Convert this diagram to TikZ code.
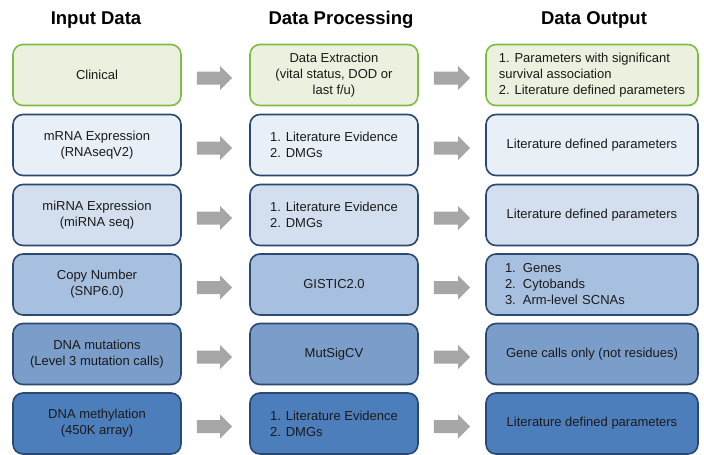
\documentclass[tikz,border=0pt]{standalone}
\usepackage{fontspec}
\setmainfont{Liberation Sans}
\usetikzlibrary{calc}
\definecolor{gfill}{HTML}{EBF1DE}
\definecolor{gline}{HTML}{80BC42}
\definecolor{navy}{HTML}{2A4870}
\definecolor{bA}{HTML}{E9EFF7}
\definecolor{bB}{HTML}{D3DFEE}
\definecolor{bC}{HTML}{A8C0DF}
\definecolor{bD}{HTML}{7A9DCA}
\definecolor{bE}{HTML}{4C7EBC}
\definecolor{arrowgrey}{HTML}{A6A6A6}
\definecolor{txt}{HTML}{1A1A1A}
\begin{document}
\begin{tikzpicture}[x=1pt,y=-1pt,
  box/.style={draw=navy, line width=1.6pt, rounded corners=10pt, minimum height=61pt,
    inner sep=0pt, align=center, text=txt, font=\fontsize{13}{16}\selectfont},
  cA/.style={box, minimum width=168pt},
  cC/.style={box, minimum width=212pt},
  green/.style={draw=gline, fill=gfill},
  head/.style={anchor=base, text=black, font=\fontsize{18.5}{22}\selectfont\bfseries}]
\useasboundingbox (0,0) rectangle (704,455);

\node[head] (h1) at (96,24) {Input Data};
\node[head] (h2) at (341,24) {Data Processing};
\node[head] (h3) at (594,24) {Data Output};

% row 1
\node[cA, green] (a1) at (97,75) {Clinical};
\node[cA, green] (b1) at (334,75) {Data Extraction\\(vital status, DOD or\\last f/u)};
\node[cC, green, align=left] (c1) at (592,75) {1. Parameters with significant\\survival association\\2. Literature defined parameters};
% row 2
\node[cA, fill=bA] (a2) at (97,145) {mRNA Expression\\(RNAseqV2)};
\node[cA, fill=bA, align=left] (b2) at (334,145) {1. Literature Evidence\\2. DMGs};
\node[cC, fill=bA] (c2) at (592,145) {Literature defined parameters};
% row 3
\node[cA, fill=bB] (a3) at (97,215) {miRNA Expression\\(miRNA seq)};
\node[cA, fill=bB, align=left] (b3) at (334,215) {1. Literature Evidence\\2. DMGs};
\node[cC, fill=bB] (c3) at (592,215) {Literature defined parameters};
% row 4
\node[cA, fill=bC] (a4) at (97,284.5) {Copy Number\\(SNP6.0)};
\node[cA, fill=bC] (b4) at (334,284.5) {GISTIC2.0};
\node[cC, fill=bC, align=left, text width=174pt] (c4) at (592,284.5)
  {\makebox[18pt][l]{1.}Genes\\\makebox[18pt][l]{2.}Cytobands\\\makebox[18pt][l]{3.}Arm-level SCNAs};
% row 5
\node[cA, fill=bD] (a5) at (97,354) {DNA mutations\\(Level 3 mutation calls)};
\node[cA, fill=bD] (b5) at (334,354) {MutSigCV};
\node[cC, fill=bD] (c5) at (592,354) {Gene calls only (not residues)};
% row 6
\node[cA, fill=bE] (a6) at (97,423.5) {DNA methylation\\(450K array)};
\node[cA, fill=bE, align=left] (b6) at (334,423.5) {1. Literature Evidence\\2. DMGs};
\node[cC, fill=bE] (c6) at (592,423.5) {Literature defined parameters};

% arrows
\foreach \r in {1,...,6}{
  \foreach \s/\t/\e in {a/b/17, b/c/15}{
    \fill[arrowgrey] let \p1=($(\s\r.east)+(15,3)$), \p2=($(\t\r.west)+(-\e,3)$) in
      (\x1,\y1+6.5pt) -- (\x2-12pt,\y1+6.5pt) -- (\x2-12pt,\y1+12pt) -- (\x2,\y1)
      -- (\x2-12pt,\y1-12pt) -- (\x2-12pt,\y1-6.5pt) -- (\x1,\y1-6.5pt) -- cycle;
  }
}
\end{tikzpicture}
\end{document}
